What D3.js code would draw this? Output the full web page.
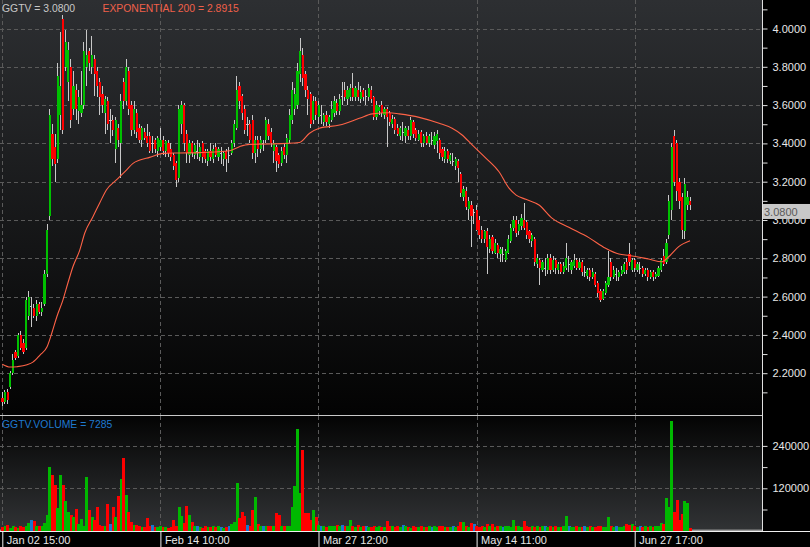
<!DOCTYPE html>
<html><head><meta charset="utf-8">
<script src="https://cdn.jsdelivr.net/npm/d3@7"></script>
<style>html,body{margin:0;padding:0;background:#000;}svg{display:block;}</style>
</head><body><svg id="c" width="810" height="547"></svg>
<script>
// ---------------- DATA ----------------
const symbol = "GGTV";
const emaLabel = "EXPONENTIAL 200";
const volLabel = "GGTV.VOLUME";
const dateTickIdx = [0, 60, 120, 180, 240];
const dateTickLabels = ["Jan 02 15:00", "Feb 14 10:00", "Mar 27 12:00", "May 14 11:00", "Jun 27 17:00"];
const priceLabelTicks = [2.2, 2.4, 2.6, 2.8, 3.0, 3.2, 3.4, 3.6, 3.8, 4.0];
const priceMinorTicks = [2.1, 2.3, 2.5, 2.7, 2.9, 3.1, 3.3, 3.5, 3.7, 3.9, 4.1];
const volLabelTicks = [120000, 240000];
const volMinorTicks = [60000, 180000];

const open = [2.07,2.05,2.10,2.13,2.20,2.31,2.29,2.40,2.36,2.33,
2.50,2.55,2.54,2.50,2.56,2.52,2.56,2.72,3.02,3.45,
3.38,3.32,3.55,4.05,3.80,3.72,3.80,3.58,3.68,3.57,
3.56,3.60,3.80,3.88,3.80,3.84,3.78,3.72,3.66,3.56,
3.62,3.52,3.52,3.37,3.48,3.40,3.72,3.62,3.78,3.60,
3.47,3.56,3.48,3.42,3.46,3.44,3.44,3.40,3.42,3.36,
3.38,3.42,3.36,3.40,3.37,3.34,3.30,3.22,3.50,3.60,
3.45,3.34,3.40,3.34,3.36,3.33,3.40,3.36,3.31,3.36,
3.32,3.38,3.33,3.35,3.32,3.36,3.34,3.35,3.40,3.48,
3.70,3.65,3.58,3.50,3.50,3.52,3.35,3.42,3.37,3.40,
3.42,3.50,3.46,3.36,3.38,3.34,3.30,3.38,3.34,3.42,
3.52,3.58,3.60,3.76,3.86,3.76,3.68,3.66,3.52,3.62,
3.54,3.55,3.51,3.55,3.50,3.52,3.56,3.61,3.57,3.65,
3.68,3.63,3.64,3.69,3.64,3.68,3.63,3.68,3.65,3.64,
3.68,3.64,3.54,3.57,3.60,3.55,3.58,3.56,3.50,3.53,
3.48,3.44,3.46,3.44,3.47,3.44,3.51,3.47,3.42,3.46,
3.40,3.44,3.40,3.42,3.39,3.41,3.42,3.37,3.32,3.36,
3.31,3.31,3.28,3.31,3.24,3.12,3.15,3.06,3.08,3.04,
3.05,3.00,2.95,2.90,2.94,2.85,2.91,2.83,2.87,2.82,
2.82,2.79,2.83,2.89,2.96,3.00,2.94,2.97,3.00,2.99,
2.94,2.89,2.90,2.77,2.79,2.74,2.75,2.74,2.80,2.74,
2.79,2.74,2.77,2.73,2.75,2.77,2.74,2.76,2.79,2.75,
2.78,2.73,2.71,2.74,2.70,2.72,2.67,2.63,2.59,2.62,
2.66,2.78,2.70,2.72,2.70,2.72,2.73,2.78,2.82,2.74,
2.79,2.74,2.75,2.75,2.72,2.74,2.70,2.73,2.70,2.71,
2.74,2.81,2.78,2.92,3.05,3.44,3.40,3.20,3.12,2.94,
3.08,3.10];
const high = [2.10,2.11,2.12,2.21,2.30,2.32,2.41,2.42,2.38,2.60,
2.63,2.60,2.56,2.58,2.57,2.57,2.74,2.98,3.58,3.50,
3.45,3.82,3.98,4.07,3.99,3.93,3.84,3.78,3.71,3.68,
3.78,3.93,3.99,3.90,3.96,3.86,3.80,3.74,3.70,3.65,
3.64,3.58,3.55,3.54,3.50,3.66,3.74,3.84,3.80,3.62,
3.62,3.58,3.50,3.49,3.48,3.50,3.46,3.44,3.43,3.44,
3.48,3.44,3.42,3.42,3.40,3.35,3.31,3.60,3.62,3.61,
3.47,3.42,3.41,3.40,3.42,3.40,3.41,3.37,3.37,3.40,
3.39,3.40,3.38,3.38,3.36,3.37,3.38,3.42,3.52,3.75,
3.72,3.66,3.60,3.54,3.52,3.55,3.44,3.44,3.44,3.42,
3.54,3.53,3.48,3.42,3.39,3.35,3.38,3.40,3.45,3.58,
3.72,3.69,3.82,3.95,3.90,3.78,3.70,3.67,3.65,3.64,
3.62,3.60,3.56,3.57,3.55,3.62,3.65,3.63,3.66,3.72,
3.72,3.70,3.71,3.77,3.70,3.72,3.70,3.69,3.68,3.71,
3.70,3.65,3.62,3.60,3.62,3.59,3.59,3.57,3.55,3.54,
3.50,3.49,3.51,3.49,3.49,3.54,3.52,3.48,3.47,3.47,
3.45,3.46,3.45,3.46,3.46,3.47,3.43,3.38,3.38,3.37,
3.35,3.35,3.33,3.32,3.25,3.18,3.17,3.12,3.10,3.06,
3.08,3.02,2.97,2.95,2.96,2.92,2.92,2.90,2.88,2.86,
2.86,2.85,2.92,2.98,3.02,3.02,3.00,3.03,3.09,3.00,
2.95,2.93,2.91,2.82,2.80,2.79,2.80,2.82,2.82,2.81,
2.80,2.78,2.78,2.78,2.88,2.81,2.79,2.82,2.80,2.80,
2.79,2.76,2.75,2.75,2.75,2.73,2.68,2.64,2.64,2.68,
2.84,2.80,2.76,2.75,2.74,2.76,2.78,2.80,2.88,2.80,
2.80,2.78,2.78,2.76,2.75,2.75,2.74,2.74,2.73,2.76,
2.80,2.85,2.90,3.13,3.40,3.47,3.42,3.22,3.14,3.22,
3.15,3.12];
const low = [2.03,2.04,2.04,2.12,2.19,2.27,2.28,2.32,2.30,2.32,
2.48,2.44,2.49,2.47,2.51,2.50,2.55,2.70,3.00,3.28,
3.20,3.30,3.47,3.45,3.78,3.62,3.48,3.55,3.52,3.50,
3.54,3.58,3.70,3.78,3.76,3.65,3.64,3.55,3.56,3.45,
3.47,3.40,3.44,3.30,3.38,3.22,3.58,3.60,3.55,3.44,
3.45,3.43,3.40,3.38,3.42,3.38,3.35,3.35,3.35,3.33,
3.36,3.34,3.33,3.33,3.31,3.26,3.17,3.20,3.45,3.36,
3.30,3.30,3.33,3.32,3.32,3.31,3.30,3.30,3.28,3.31,
3.30,3.33,3.31,3.29,3.28,3.25,3.30,3.34,3.38,3.47,
3.58,3.52,3.45,3.44,3.40,3.32,3.30,3.33,3.35,3.36,
3.40,3.42,3.38,3.30,3.25,3.27,3.28,3.32,3.30,3.40,
3.50,3.55,3.58,3.72,3.70,3.64,3.55,3.48,3.50,3.52,
3.50,3.50,3.49,3.49,3.48,3.51,3.54,3.55,3.55,3.60,
3.62,3.60,3.62,3.62,3.62,3.62,3.61,3.62,3.60,3.62,
3.61,3.52,3.52,3.55,3.54,3.53,3.38,3.49,3.48,3.45,
3.44,3.42,3.41,3.40,3.42,3.42,3.43,3.41,3.41,3.38,
3.38,3.39,3.38,3.39,3.37,3.35,3.32,3.31,3.30,3.30,
3.29,3.28,3.26,3.20,3.12,3.10,3.05,3.00,2.86,2.98,
2.94,2.90,2.88,2.88,2.72,2.83,2.82,2.82,2.80,2.78,
2.78,2.78,2.82,2.88,2.94,2.91,2.92,2.95,2.95,2.90,
2.88,2.86,2.76,2.75,2.66,2.73,2.71,2.72,2.72,2.73,
2.72,2.72,2.72,2.72,2.74,2.73,2.72,2.75,2.74,2.74,
2.71,2.70,2.69,2.68,2.69,2.65,2.60,2.57,2.58,2.61,
2.65,2.68,2.69,2.68,2.68,2.71,2.72,2.72,2.76,2.73,
2.73,2.73,2.72,2.70,2.71,2.68,2.69,2.68,2.69,2.70,
2.73,2.76,2.77,2.90,3.00,3.18,3.10,3.06,2.90,2.90,
3.05,3.05];
const close = [2.05,2.10,2.06,2.20,2.27,2.28,2.40,2.33,2.31,2.58,
2.60,2.55,2.50,2.56,2.52,2.54,2.72,2.95,3.55,3.32,
3.29,3.75,3.70,3.47,3.93,3.89,3.52,3.70,3.58,3.64,
3.60,3.88,3.86,3.82,3.86,3.76,3.70,3.64,3.60,3.63,
3.50,3.52,3.47,3.52,3.42,3.62,3.62,3.80,3.58,3.47,
3.58,3.46,3.42,3.48,3.43,3.40,3.36,3.40,3.37,3.43,
3.42,3.36,3.41,3.35,3.33,3.28,3.21,3.58,3.60,3.40,
3.35,3.40,3.35,3.39,3.36,3.38,3.33,3.32,3.36,3.33,
3.37,3.34,3.37,3.35,3.35,3.32,3.34,3.40,3.50,3.68,
3.62,3.56,3.47,3.50,3.42,3.35,3.42,3.37,3.42,3.40,
3.52,3.44,3.40,3.40,3.31,3.29,3.36,3.34,3.43,3.55,
3.68,3.66,3.78,3.88,3.74,3.68,3.63,3.50,3.62,3.55,
3.60,3.55,3.55,3.51,3.54,3.58,3.62,3.57,3.63,3.65,
3.64,3.68,3.69,3.64,3.69,3.64,3.67,3.64,3.65,3.69,
3.63,3.54,3.60,3.59,3.56,3.58,3.54,3.51,3.53,3.47,
3.45,3.48,3.46,3.48,3.44,3.52,3.45,3.43,3.45,3.40,
3.44,3.40,3.44,3.42,3.44,3.45,3.35,3.33,3.36,3.32,
3.34,3.31,3.32,3.27,3.14,3.16,3.07,3.10,3.02,3.04,
2.95,2.92,2.90,2.94,2.86,2.90,2.84,2.88,2.83,2.85,
2.82,2.84,2.90,2.96,3.00,2.93,2.98,3.01,2.96,2.92,
2.90,2.92,2.78,2.80,2.75,2.78,2.75,2.80,2.74,2.79,
2.75,2.77,2.73,2.76,2.80,2.77,2.78,2.79,2.75,2.78,
2.73,2.73,2.74,2.70,2.73,2.66,2.62,2.58,2.63,2.67,
2.70,2.70,2.74,2.72,2.73,2.74,2.77,2.74,2.78,2.79,
2.75,2.77,2.75,2.72,2.74,2.70,2.73,2.70,2.72,2.75,
2.79,2.77,2.88,3.10,3.38,3.20,3.15,3.10,2.95,3.19,
3.12,3.08];
const volume = [10000,12000,17000,9000,13000,11000,8000,14000,10000,12000,
22000,31000,28000,13000,12000,14000,22000,45000,181000,158000,
130000,64000,158000,130000,85000,53000,45000,39000,62000,20000,
34000,13000,153000,59000,40000,30000,67000,16000,14000,12000,
76000,18000,67000,38000,98000,147000,206000,100000,52000,25000,
15000,16000,12000,10000,11000,36000,12000,16000,11000,10000,
12000,10000,11000,9000,10000,30000,14000,68000,43000,22000,
71000,45000,26000,12000,14000,11000,9000,12000,10000,11000,
13000,10000,12000,11000,9000,10000,13000,20000,26000,136000,
36000,52000,41000,15000,12000,59000,95000,20000,14000,12000,
13000,12000,14000,12000,50000,45000,14000,13000,12000,14000,
66000,127000,288000,106000,229000,50000,50000,30000,59000,39000,
15000,12000,13000,11000,14000,12000,13000,15000,12000,17000,
12000,13000,30000,12000,10000,15000,11000,12000,13000,11000,
10000,12000,11000,12000,10000,11000,27000,13000,13000,11000,
12000,10000,16000,12000,11000,9000,12000,10000,11000,12000,
10000,11000,12000,10000,12000,11000,13000,12000,10000,11000,
10000,12000,11000,12000,25000,25000,12000,11000,22000,20000,
12000,11000,14000,10000,20000,12000,20000,11000,12000,13000,
10000,12000,14000,11000,30000,12000,14000,11000,27000,12000,
11000,12000,10000,13000,11000,12000,14000,11000,12000,10000,
12000,11000,10000,13000,42000,12000,11000,10000,12000,11000,
10000,13000,11000,12000,10000,11000,12000,13000,10000,11000,
38000,12000,11000,13000,10000,11000,12000,18000,15000,20000,
12000,11000,13000,10000,12000,11000,13000,10000,12000,14000,
21000,18000,93000,68000,311000,52000,87000,30000,47000,84000,
79000,7285];
// EMA 200 (bar index, value)
const emaIdx = [0,3,5.6,9.4,11.6,14.3,17,18.8,20.7,23,24.9,26.8,29.4,31.3,34.4,37,39.5,43.3,47.1,49.6,52.2,55.9,61,67.3,75,86.3,90,93.8,101.4,112.8,116.6,120.3,128,135.5,140.4,146.9,150.6,158.2,165.8,170.7,174.5,178.3,183.6,188.5,192.3,195,198.7,203.7,208.6,215,222.6,229,234,238,245.3,250.3,252.9,256.7,261];
const emaVal = [2.247,2.232,2.234,2.244,2.258,2.295,2.338,2.41,2.495,2.582,2.671,2.756,2.843,2.932,3.017,3.09,3.157,3.209,3.261,3.296,3.313,3.327,3.348,3.350,3.352,3.362,3.383,3.395,3.397,3.405,3.453,3.479,3.496,3.531,3.554,3.560,3.554,3.536,3.505,3.479,3.444,3.392,3.322,3.252,3.166,3.130,3.108,3.078,3.010,2.962,2.908,2.852,2.822,2.815,2.796,2.782,2.808,2.861,2.8915];

// ---------------- DRAW ----------------
const svg = d3.select('#c');
const FONT = '"Liberation Sans", Arial, sans-serif';
const plotR = 762, priceBot = 415, volTop = 416, volBot = 531;
const n = close.length;

const x = d3.scaleLinear().domain([0, n - 1]).range([2.3, 2.3 + (n - 1) * 2.635]);
const y = d3.scaleLinear().domain([2.2, 4.0]).range([373.2, 28.5]);
const yv = d3.scaleLinear().domain([0, 240000]).range([530.7, 445.9]);

svg.append('rect').attr('width', 810).attr('height', 547).attr('fill', '#000');

const defs = svg.append('defs');
const g1 = defs.append('linearGradient').attr('id', 'gp').attr('x1', 0).attr('y1', 0).attr('x2', 0).attr('y2', 1);
g1.append('stop').attr('offset', '0%').attr('stop-color', '#2d2f32');
g1.append('stop').attr('offset', '100%').attr('stop-color', '#030303');
const g2 = defs.append('linearGradient').attr('id', 'gv').attr('x1', 0).attr('y1', 0).attr('x2', 0).attr('y2', 1);
g2.append('stop').attr('offset', '0%').attr('stop-color', '#040404');
g2.append('stop').attr('offset', '100%').attr('stop-color', '#313335');
defs.append('clipPath').attr('id', 'cp').append('rect').attr('x', 0).attr('y', 0).attr('width', plotR).attr('height', priceBot);
defs.append('clipPath').attr('id', 'cv').append('rect').attr('x', 0).attr('y', volTop).attr('width', plotR).attr('height', volBot - volTop);

svg.append('rect').attr('x', 0).attr('y', 0).attr('width', plotR).attr('height', priceBot).attr('fill', 'url(#gp)');
svg.append('rect').attr('x', 0).attr('y', volTop).attr('width', plotR).attr('height', volBot - volTop).attr('fill', 'url(#gv)');

// grid
const grid = svg.append('g').attr('stroke', '#5a5a5a').attr('stroke-width', 1).attr('stroke-dasharray', '4,3').attr('shape-rendering', 'crispEdges');
grid.selectAll('.hp').data(priceLabelTicks).join('line')
  .attr('x1', 0).attr('x2', plotR).attr('y1', d => Math.round(y(d)) + 0.5).attr('y2', d => Math.round(y(d)) + 0.5);
grid.selectAll('.hv').data(volLabelTicks).join('line').attr('class', 'hv')
  .attr('x1', 0).attr('x2', plotR).attr('y1', d => Math.round(yv(d)) + 0.5).attr('y2', d => Math.round(yv(d)) + 0.5);
grid.selectAll('.vp').data(dateTickIdx).join('line').attr('class', 'vp')
  .attr('x1', d => Math.round(x(d)) + 0.5).attr('x2', d => Math.round(x(d)) + 0.5).attr('y1', 0).attr('y2', priceBot);
grid.selectAll('.vv').data(dateTickIdx).join('line').attr('class', 'vv')
  .attr('x1', d => Math.round(x(d)) + 0.5).attr('x2', d => Math.round(x(d)) + 0.5).attr('y1', volTop).attr('y2', volBot);

// candles
const cg = svg.append('g').attr('clip-path', 'url(#cp)');
const idx = d3.range(n);
cg.append('g').attr('stroke', '#c8c8c8').attr('stroke-width', 1).attr('shape-rendering', 'crispEdges')
  .selectAll('line').data(idx).join('line')
  .attr('x1', i => x(i)).attr('x2', i => x(i)).attr('y1', i => y(high[i])).attr('y2', i => y(low[i]));
const candleColor = i => close[i] > open[i] ? '#00c000' : (close[i] < open[i] ? '#ff0000' : '#c8c8c8');
cg.append('g').attr('shape-rendering', 'crispEdges')
  .selectAll('rect').data(idx).join('rect')
  .attr('x', i => x(i) - 1).attr('width', 2.2)
  .attr('y', i => y(Math.max(open[i], close[i])))
  .attr('height', i => Math.max(1, Math.abs(y(open[i]) - y(close[i]))))
  .attr('fill', candleColor);

// EMA line
const emaPts = emaIdx.map((d, i) => [d, emaVal[i]]);
cg.append('path').datum(emaPts)
  .attr('d', d3.line().x(d => x(d[0])).y(d => y(d[1])).curve(d3.curveMonotoneX))
  .attr('fill', 'none').attr('stroke', '#ff6347').attr('stroke-width', 1.1);

// volume
const vg = svg.append('g').attr('clip-path', 'url(#cv)');
vg.append('line').attr('x1', 0).attr('x2', plotR).attr('y1', 530.2).attr('y2', 530.2).attr('stroke', '#c8c8c8').attr('stroke-width', 1);
const volColor = i => close[i] > open[i] ? '#00b800' : (close[i] < open[i] ? '#ff0000' : '#1a78cc');
vg.append('g').attr('shape-rendering', 'crispEdges')
  .selectAll('rect').data(idx).join('rect')
  .attr('x', i => x(i) - 1.3).attr('width', 3)
  .attr('y', i => yv(volume[i])).attr('height', i => yv(0) - yv(volume[i]))
  .attr('fill', volColor);

// frame lines
svg.append('line').attr('x1', 0).attr('x2', plotR).attr('y1', 415.5).attr('y2', 415.5).attr('stroke', '#c8c8c8');
svg.append('line').attr('x1', plotR + 0.5).attr('x2', plotR + 0.5).attr('y1', 0).attr('y2', volBot).attr('stroke', '#e0e0e0');

// right price axis
const textStyle = s => s.attr('font-family', FONT).attr('font-size', '11px').attr('fill', '#e8e8e8');
const pAxis = svg.append('g').attr('transform', `translate(${plotR + 0.5},0)`)
  .call(d3.axisRight(y).tickValues(priceLabelTicks.concat(priceMinorTicks)).tickSize(5).tickPadding(5)
    .tickFormat(d => priceLabelTicks.some(t => Math.abs(t - d) < 1e-9) ? d3.format('.4f')(d) : ''));
pAxis.select('.domain').remove();
pAxis.selectAll('.tick line').attr('stroke', '#e0e0e0');
pAxis.selectAll('.tick text').call(textStyle);
pAxis.selectAll('.tick').filter(d => y(d) < 0 || y(d) > priceBot).remove();

const vAxis = svg.append('g').attr('transform', `translate(${plotR + 0.5},0)`)
  .call(d3.axisRight(yv).tickValues(volLabelTicks.concat(volMinorTicks)).tickSize(5).tickPadding(5)
    .tickFormat(d => volLabelTicks.includes(d) ? String(d) : ''));
vAxis.select('.domain').remove();
vAxis.selectAll('.tick line').attr('stroke', '#e0e0e0');
vAxis.selectAll('.tick text').call(textStyle);

// bottom axis
const xAxis = svg.append('g').attr('transform', `translate(0,${volBot + 0.5})`)
  .call(d3.axisBottom(x).tickValues(dateTickIdx).tickSize(16).tickFormat((d, i) => dateTickLabels[i]));
xAxis.select('.domain').remove();
xAxis.selectAll('.tick line').attr('stroke', '#f0f0f0');
xAxis.selectAll('.tick text').call(textStyle).attr('text-anchor', 'start').attr('x', 4).attr('y', 12.5).attr('dy', 0);
svg.append('line').attr('x1', 0).attr('x2', 810).attr('y1', volBot + 0.5).attr('y2', volBot + 0.5).attr('stroke', '#f0f0f0');

// last price box
const last = close[n - 1];
svg.append('rect').attr('x', plotR + 1).attr('y', y(last) - 0.7).attr('width', 810 - plotR - 1).attr('height', 15).attr('fill', '#c8c8c8');
svg.append('text').attr('x', plotR + 2).attr('y', y(last) + 11).text(d3.format('.4f')(last))
  .attr('font-family', FONT).attr('font-size', '11px').attr('fill', '#5a5a5a');

// legends
svg.append('text').attr('x', 2).attr('y', 11.5).text(`${symbol} = ${d3.format('.4f')(last)}`)
  .attr('font-family', FONT).attr('font-size', '10.4px').attr('fill', '#c8c8c8');
svg.append('text').attr('x', 102.5).attr('y', 11.5).text(`${emaLabel} = ${d3.format('.4f')(emaVal[emaVal.length - 1])}`)
  .attr('font-family', FONT).attr('font-size', '10.4px').attr('fill', '#f0604a');
svg.append('text').attr('x', 2).attr('y', 427.5).text(`${volLabel} = ${volume[n - 1]}`)
  .attr('font-family', FONT).attr('font-size', '10.4px').attr('fill', '#1f7ad0');
</script></body></html>
